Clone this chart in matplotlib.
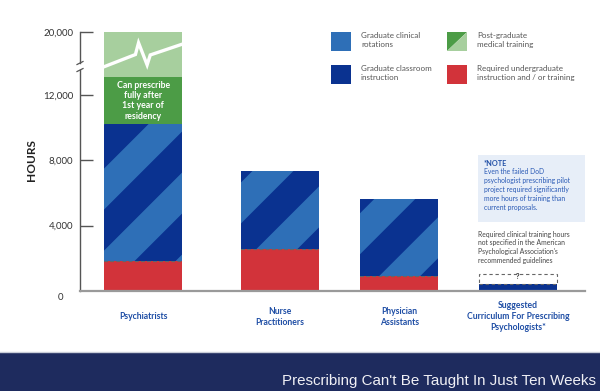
import matplotlib
matplotlib.use('Agg')
import matplotlib.pyplot as plt
from matplotlib.patches import Rectangle, Polygon
from matplotlib.transforms import IdentityTransform
import numpy as np

plt.rcParams['font.family'] = ['Lato', 'DejaVu Sans']

# data (hours)
categories = ['Psychiatrists', 'Nurse\nPractitioners', 'Physician\nAssistants',
              'Suggested\nCurriculum For Prescribing\nPsychologists*']
undergrad = [1850, 2550, 920, 0]          # required undergraduate instruction / training
classroom = [0, 0, 0, 450]                # graduate classroom instruction only
graduate = [8350, 4820, 4710, 0]          # graduate classroom + clinical rotations (striped)
residency = [2900, 0, 0, 0]               # first year of residency
postgrad = [6900, 0, 0, 0]                # rest of post-graduate training (axis break)
unspecified = [0, 0, 0, 600]              # clinical hours not specified (dashed)
ytick_vals = [4000, 8000, 12000, 20000]
ytick_labels = ['4,000', '8,000', '12,000', '20,000']

RED = '#d2333a'
MBLUE = '#2e6fb7'
DBLUE = '#0a3290'
DGREEN = '#4c9c46'
LGREEN = '#a7cf9e'
LABEL_BLUE = '#1f4ea5'
NAVY = '#1e2b5e'

W, H = 600, 391
fig = plt.figure(figsize=(6, 3.91), dpi=100)


def squash(v):
    # y axis is broken above ~13,500 hours
    v = np.asarray(v, float)
    return np.where(v <= 13500, v, 13500 + (v - 13500) * 0.363)


ax = fig.add_axes([80 / W, (H - 291) / H, 505 / W, 261.3 / H])
ax.set_ylim(0, 16000)
ax.set_xlim(-0.81, 5.66)
x = np.array([0, 1.75, 3.28, 4.8])
bw = 1.0

b1 = np.array(undergrad, float)
b2 = b1 + classroom
b3 = b2 + graduate
b4 = b3 + residency
b5 = b4 + postgrad
b6 = b2 + unspecified

ax.bar(x, squash(b1) - squash(0), bottom=0, width=bw, color=RED, lw=0)
ax.bar(x, squash(b2) - squash(b1), bottom=squash(b1), width=bw, color=DBLUE, lw=0)
gb = ax.bar(x, squash(b3) - squash(b2), bottom=squash(b2), width=bw, color=MBLUE, lw=0)
ax.bar(x, squash(b4) - squash(b3), bottom=squash(b3), width=bw, color=DGREEN, lw=0)
ax.bar(x, squash(b5) - squash(b4), bottom=squash(b4), width=bw, color=LGREEN, lw=0)
ax.bar(x, squash(b6) - squash(b2), bottom=squash(b2), width=bw, fill=False,
       edgecolor='#666666', lw=0.8, ls=(0, (3, 2.5)))

# diagonal stripes on graduate segments
stripe_first = [44, 12, 14]
band = 41
for i, rect in enumerate(gb):
    if graduate[i] <= 0:
        continue
    x0, y0 = rect.get_x(), rect.get_y()
    x1, y1 = x0 + rect.get_width(), y0 + rect.get_height()
    X0, Y0 = ax.transData.transform((x0, y0))
    X1, Y1 = ax.transData.transform((x1, y1))
    u0 = X0 - Y1
    umax = X1 - Y0
    edges = [u0, u0 + stripe_first[i]]
    while edges[-1] < umax:
        edges.append(edges[-1] + band)
    Xa, Xb = X0 - 400, X1 + 400
    clip = Rectangle((x0, y0), x1 - x0, y1 - y0, transform=ax.transData)
    for ua, ub in zip(edges[0::2], edges[1::2]):
        poly = Polygon([(Xa, Xa - ua), (Xb, Xb - ua), (Xb, Xb - ub), (Xa, Xa - ub)],
                       closed=True, facecolor=DBLUE, lw=0,
                       transform=IdentityTransform())
        ax.add_patch(poly)
        poly.set_clip_path(clip)

# zigzag break line through the light green segment
zx = np.array([0, 0.40, 0.44, 0.55, 0.59, 1.0])
zy = np.array([0.23, 0.50, 0.76, 0.27, 0.49, 0.73])
lo, hi = squash(b4[0]), squash(b5[0])
ax.plot(x[0] - bw / 2 + zx * bw, lo + zy * (hi - lo), color='white', lw=2.4,
        solid_joinstyle='miter', zorder=5)

ax.text(x[0], (squash(b3[0]) + squash(b4[0])) / 2,
        'Can prescribe\nfully after\n1st year of\nresidency', color='white',
        fontsize=6.3, fontweight='bold', ha='center', va='center', linespacing=1.2)

ax.text(x[3], (squash(b2[3]) + squash(b6[3])) / 2 + 150, '?', fontsize=5.5,
        fontweight='bold', color='#333333', ha='center', va='center')

# axes styling
for s in ['top', 'right', 'left']:
    ax.spines[s].set_visible(False)
ax.spines['bottom'].set_color('#9a9a9a')
ax.spines['bottom'].set_linewidth(1.6)
ax.set_yticks(squash(ytick_vals), ytick_labels)
ax.tick_params(axis='y', direction='in', length=9, width=1, color='#555555', pad=5,
               labelsize=7, labelcolor='#333333')
ax.set_xticks([])

xl = ax.get_xlim()[0]
brk_lo, brk_hi = 13530, 13960
ax.plot([xl, xl], [0, brk_lo], color='#555555', lw=1, clip_on=False)
ax.plot([xl, xl], [brk_hi, float(squash(20000))], color='#555555', lw=1, clip_on=False)

for xi, lab in zip(x, categories):
    ax.annotate(lab, xy=(xi, 0), xytext=(0, -18.5), textcoords='offset points',
                ha='center', va='center', fontsize=6.2, fontweight='bold',
                color=LABEL_BLUE, linespacing=1.3)

# decorations in pixel coordinates
deco = fig.add_axes([0, 0, 1, 1], zorder=3)
deco.set_xlim(0, W)
deco.set_ylim(H, 0)
deco.axis('off')


def to_px(xd, yd):
    X, Y = ax.transData.transform((xd, yd))
    return X, H - Y


for v in (brk_lo, brk_hi):
    px, py = to_px(xl, v)
    deco.plot([px - 3, px + 3], [py + 1.5, py - 1.5], color='#555555', lw=0.9)

deco.text(60, 298, '0', fontsize=7, color='#333333', ha='center', va='center')
deco.text(32, 160, 'HOURS', rotation=90, fontsize=8.6, fontweight='bold',
          color='#222222', ha='center', va='center')

# legend
leg = [(331, 32, MBLUE, 'Graduate clinical\nrotations'),
       (447, 32, None, 'Post-graduate\nmedical training'),
       (331, 65, DBLUE, 'Graduate classroom\ninstruction'),
       (447, 65, RED, 'Required undergraduate\ninstruction and / or training')]
for lx, ly, col, txt in leg:
    if col is None:
        deco.add_patch(Polygon([(lx, ly + 19), (lx, ly), (lx + 20, ly)], facecolor=DGREEN, lw=0))
        deco.add_patch(Polygon([(lx, ly + 19), (lx + 20, ly), (lx + 20, ly + 19)],
                               facecolor=LGREEN, lw=0))
    else:
        deco.add_patch(Rectangle((lx, ly), 20, 19, facecolor=col, lw=0))
    deco.text(lx + 30, ly + 8, txt, fontsize=5.8, color='#555555', ha='left',
              va='center', linespacing=1.2)

# note box
deco.add_patch(Rectangle((478, 155), 107, 67, facecolor='#e7eef8', lw=0))
deco.text(484, 164, '*NOTE', fontsize=5.3, fontweight='bold', color='#1f4ea5',
          ha='left', va='center')
deco.text(484, 168.5, 'Even the failed DoD\npsychologist prescribing pilot\n'
          'project required significantly\nmore hours of training than\ncurrent proposals.',
          fontsize=4.9, color='#2a5ab5', ha='left', va='top', linespacing=1.32)
deco.text(478, 230.5, 'Required clinical training hours\nnot specified in the American\n'
          "Psychological Association's\nrecommended guidelines",
          fontsize=4.9, color='#444444', ha='left', va='top', linespacing=1.32)

# bottom banner
deco.add_patch(Rectangle((0, 352), W, 39, facecolor=NAVY, lw=0))
deco.plot([0, W], [351.5, 351.5], color='#c9cdd8', lw=1)
deco.text(596, 381, "Prescribing Can't Be Taught In Just Ten Weeks", fontsize=10.9,
          family='Liberation Sans', color='#f0f0f5', ha='right', va='center')

fig.savefig('out.png', dpi=100)
